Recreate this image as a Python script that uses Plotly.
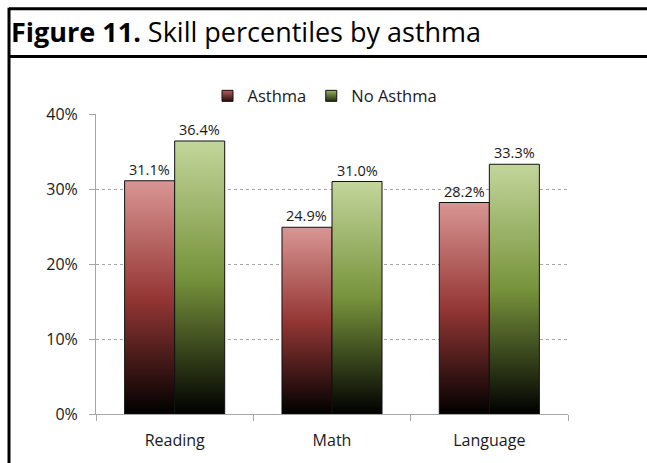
import plotly.graph_objects as go

# Skill percentiles by asthma status
categories = ["Reading", "Math", "Language"]
asthma = [31.1, 24.9, 28.2]
no_asthma = [36.4, 31.0, 33.3]
series_names = ["Asthma", "No Asthma"]
y_ticks = [0, 10, 20, 30, 40]

# gradient fills: black at the base, deep tone in the middle, light tint at the top
red_scale = [[0.0, "#000000"], [0.5, "#953735"], [1.0, "#d99694"]]
green_scale = [[0.0, "#000000"], [0.5, "#77933c"], [1.0, "#c3d69b"]]
legend_colors = [("#b65d5b", "#2a0a0a"), ("#98b562", "#1c2a0a")]

W, H = 647, 463
L, R, T, B = 96, 79, 114, 47
plot_w = W - L - R
plot_h = H - T - B

FONT = "Open Sans"
BAR_W = 0.318  # width of a single bar in category units

fig = go.Figure()


def add_bar(xc, x_off, value, scale):
    x0 = xc + x_off
    x1 = x0 + BAR_W
    fig.add_trace(go.Scatter(
        x=[x0, x0, x1, x1, x0],
        y=[0, value, value, 0, 0],
        mode="lines",
        fill="toself",
        fillgradient=dict(type="vertical", colorscale=scale),
        line=dict(color="#111111", width=1),
        showlegend=False,
        hoverinfo="skip",
    ))


for i, cat in enumerate(categories):
    add_bar(i, -BAR_W, asthma[i], red_scale)
    add_bar(i, 0.0, no_asthma[i], green_scale)

# legend entries: small shaded squares
for name, (top, bottom) in zip(series_names, legend_colors):
    fig.add_trace(go.Scatter(
        x=[None], y=[None],
        mode="markers",
        name=name,
        marker=dict(symbol="square", size=11, color=top,
                    gradient=dict(type="vertical", color=bottom),
                    line=dict(color="#111111", width=1)),
    ))

# value labels above the bars
for i in range(len(categories)):
    for x, v in ((i - BAR_W / 2, asthma[i]), (i + BAR_W / 2, no_asthma[i])):
        fig.add_annotation(
            x=x, y=v, text=f"{v:.1f}%",
            showarrow=False, yanchor="bottom", yshift=0,
            font=dict(family=FONT, size=14.5, color="#1a1a1a"),
        )


def px_x(px):
    return (px - L) / plot_w


def px_y(py):
    return (H - B - py) / plot_h


# frame: left rule, top rule and the rule under the heading
frame = dict(type="line", xref="paper", yref="paper",
             line=dict(color="#000000", width=3))
fig.add_shape(**frame, x0=px_x(9), x1=px_x(W + 5), y0=px_y(8), y1=px_y(8))
fig.add_shape(**frame, x0=px_x(9), x1=px_x(W + 5), y0=px_y(56), y1=px_y(56))
fig.add_shape(**frame, x0=px_x(9), x1=px_x(9), y0=px_y(7), y1=px_y(H + 5))

fig.update_layout(
    width=W,
    height=H,
    margin=dict(l=L, r=R, t=T, b=B),
    paper_bgcolor="white",
    plot_bgcolor="white",
    font=dict(family=FONT, color="#1a1a1a"),
    title=dict(
        text="<b>Figure 11.</b> Skill percentiles by asthma",
        font=dict(family=FONT, size=27, color="#000000"),
        x=11 / W, xref="container", xanchor="left",
        y=1 - 33 / H, yref="container", yanchor="middle",
    ),
    legend=dict(
        orientation="h",
        x=px_x(325), xanchor="center",
        y=1 + 18 / plot_h, yanchor="middle",
        font=dict(family=FONT, size=16.5, color="#1a1a1a"),
        bgcolor="rgba(0,0,0,0)",
        itemwidth=30,
    ),
    xaxis=dict(
        range=[-0.5, len(categories) - 0.5],
        tickmode="array",
        tickvals=list(range(len(categories))),
        ticktext=categories,
        ticks="",
        ticklabelstandoff=12,
        showgrid=False,
        zeroline=False,
        showline=True,
        linecolor="#a6a6a6",
        linewidth=1,
        tickfont=dict(family=FONT, size=16, color="#1a1a1a"),
        minor=dict(ticks="outside", tick0=-0.5, dtick=1, ticklen=6,
                   tickcolor="#a6a6a6", tickwidth=1, showgrid=False),
        fixedrange=True,
    ),
    yaxis=dict(
        range=[0, 40],
        tickmode="array",
        tickvals=y_ticks,
        ticktext=[f"{v}%" for v in y_ticks],
        ticks="outside",
        ticklen=6,
        tickcolor="#a6a6a6",
        ticklabelstandoff=8,
        showgrid=True,
        gridcolor="#a6a6a6",
        griddash="dot",
        gridwidth=1,
        zeroline=False,
        showline=True,
        linecolor="#a6a6a6",
        linewidth=1,
        tickfont=dict(family=FONT, size=16, color="#1a1a1a"),
        fixedrange=True,
    ),
)

fig.write_html("out.html")
